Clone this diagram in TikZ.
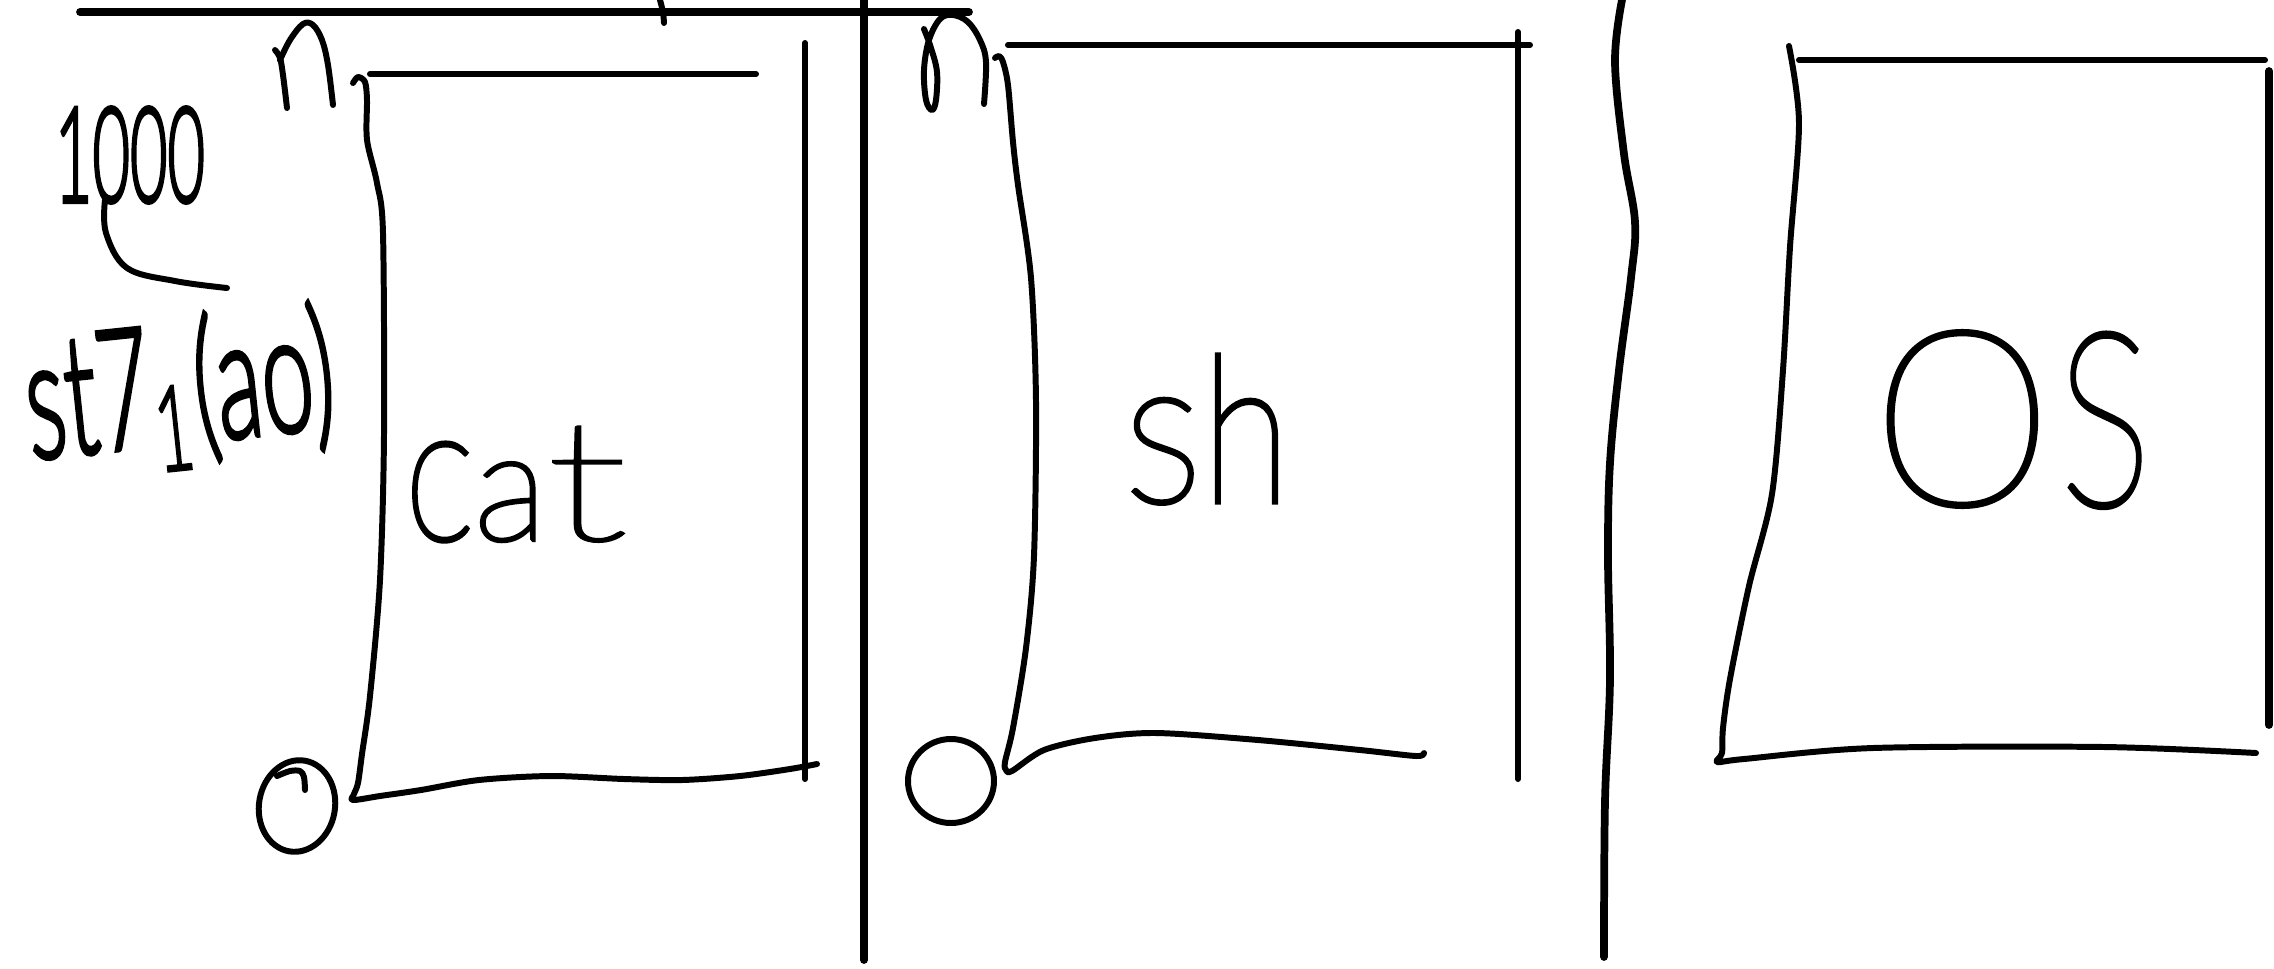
\documentclass[tikz,border=0pt]{standalone}
\usepackage{fontspec}
\usepackage{graphicx}
\IfFontExistsTF{Lato Hairline}{\newfontfamily\hand{Lato Hairline}}{%
 \IfFontExistsTF{Lato Thin}{\newfontfamily\hand{Lato Thin}}{%
  \IfFontExistsTF{Lato Light}{\newfontfamily\hand{Lato Light}}{\newfontfamily\hand{Lato}}}}
\IfFontExistsTF{Lato Light}{\newfontfamily\handb{Lato Light}}{\newfontfamily\handb{Lato}}
\newcommand\gl[4]{{\addfontfeature{FakeBold=#3}\resizebox{#1}{#2}{#4}}}
\tikzset{
  pen/.style={line width=1.7pt, line cap=round, line join=round},
  heavy/.style={line width=2.2pt, line cap=round, line join=round},
  word/.style={inner sep=0pt, font=\hand},
  note/.style={inner sep=0pt, font=\handb},
}
\begin{document}
\begin{tikzpicture}[x=0.1mm,y=-0.1mm]
\useasboundingbox (0,0) rectangle (2274,968);
% dividers
\draw[heavy] (80,12) -- (969,12);
\draw[heavy] (864,0) -- (864,960);
\draw[pen] plot[smooth] coordinates {(660,0) (663,12) (664,23)};
\draw[heavy] plot[smooth, tension=0.6] coordinates {(1622,0) (1615,62) (1624,154) (1635,222) (1631,278) (1619,370) (1610,463) (1608,556) (1610,679) (1605,802) (1604,957)};
% left notes
\node[note] (n1000) at (130,155) {\gl{15mm}{9.5mm}{3}{1000}};
\draw[pen] plot[smooth, tension=0.6] coordinates {(105,200) (106,233) (127,268) (175,281) (227,288)};
\node[note, rotate=6] (nst) at (180,392) {{\addfontfeature{FakeBold=2.5}\resizebox*{31mm}{15.5mm}{st7\textsubscript{1}(ao)}}};
% box 1
\draw[pen] (370,74) -- (756,74);
\draw[pen] (805,43) -- (805,779);
\draw[pen] plot[smooth, tension=0.5] coordinates {(353,83) (358,77) (365,82) (367,100) (367,140) (377,183) (383,233) (384,435) (380,580) (370,696) (362,754) (358,783) (354,794) (353,800) (380,796) (421,790) (479,780) (551,776) (624,779) (682,780) (740,776) (790,769) (817,764)};
\draw[pen] plot[smooth, tension=0.6] coordinates {(275,50) (280,58) (283,75) (287,108)};
\draw[pen] plot[smooth, tension=0.6] coordinates {(280,60) (290,40) (303,24) (313,25) (322,40) (328,65) (333,105)};
\draw[pen, rotate around={-10:(297,806)}] (297,806) ellipse [x radius=38, y radius=46];
\draw[pen] plot[smooth] coordinates {(277,776) (290,771) (300,771) (304,777) (305,790)};
\node[word, anchor=base] (cat) at (516,540) {\gl{6.9mm}{9.7mm}{2.6}{c}\gl{7.3mm}{7.7mm}{2.6}{a}\gl{8mm}{11.3mm}{2}{t}};
% box 2
\draw[pen] (1008,45) -- (1530,45);
\draw[pen] (1518,32) -- (1518,779);
\draw[pen] plot[smooth, tension=0.5] coordinates {(995,58) (999,56) (1003,62) (1008,85) (1013,142) (1018,185) (1031,278) (1036,401) (1034,556) (1026,648) (1013,728) (1005,762) (1006,770) (1012,771) (1044,750) (1095,738) (1156,733) (1258,740) (1360,750) (1416,756) (1424,753)};
\draw[pen] plot[smooth, tension=0.6] coordinates {(924,29) (931,48) (937,72) (936,100) (932,110) (926,100) (924,70) (929,40) (940,19) (953,15) (968,22) (980,40) (986,62) (984,104)};
\draw[pen] (951,781) ellipse [x radius=43, y radius=42];
\node[word, anchor=base] (sh) at (1207,502) {\gl{7.8mm}{10.3mm}{2.2}{s}\gl{8.8mm}{14.7mm}{2.6}{h}};
% box 3
\draw[pen] (1799,60) -- (2265,60);
\draw[heavy] (2269,71) -- (2269,725);
\draw[pen] plot[smooth, tension=0.5] coordinates {(1789,46) (1799,123) (1790,247) (1783,370) (1772,494) (1749,586) (1730,679) (1723,728) (1722,753) (1717,762) (1744,759) (1873,748) (2104,747) (2256,753)};
\node[word, anchor=base] (os) at (2010,505) {\gl{19mm}{17.4mm}{1.1}{o}\gl{9.5mm}{17.2mm}{1.4}{s}};
\end{tikzpicture}
\end{document}
